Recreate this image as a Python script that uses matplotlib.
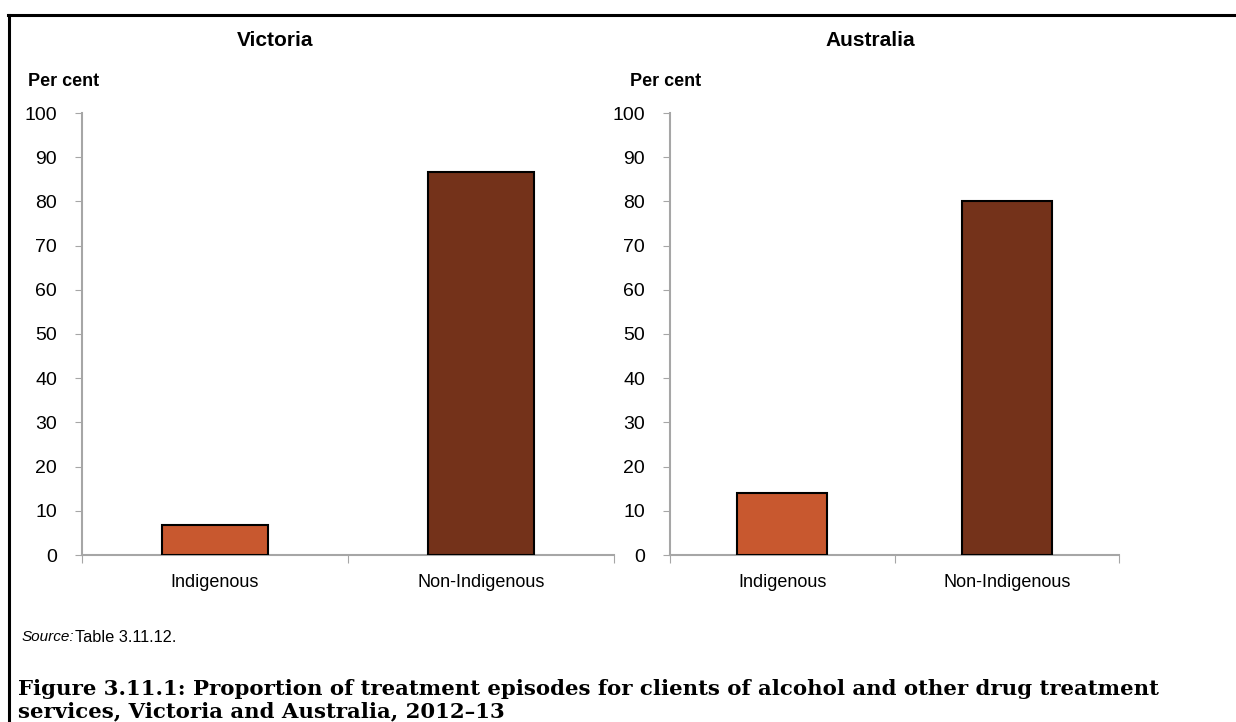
import matplotlib.pyplot as plt
from matplotlib.lines import Line2D

# data
categories = ['Indigenous', 'Non-Indigenous']
victoria = [6.9, 86.7]
australia = [14.0, 80.1]
panel_titles = ['Victoria', 'Australia']
bar_colours = ['#C8582F', '#74321A']
yticks = list(range(0, 101, 10))

plt.rcParams['font.family'] = ['Liberation Sans', 'DejaVu Sans']

fig = plt.figure(figsize=(12.36, 7.22), dpi=100)
W, H = 1236, 722

def px(x0, y0, x1, y1):
    # pixel box -> figure fraction [left, bottom, width, height]
    return [x0 / W, 1 - y1 / H, (x1 - x0) / W, (y1 - y0) / H]

axes_boxes = [px(82, 113, 614, 555), px(670, 113, 1119, 555)]
grey = '#A6A6A6'

for box, vals in zip(axes_boxes, [victoria, australia]):
    ax = fig.add_axes(box)
    ax.bar(range(len(categories)), vals, width=0.4, color=bar_colours,
           edgecolor='black', linewidth=1.5, zorder=3)
    ax.set_xlim(-0.5, 1.5)
    ax.set_ylim(0, 100)
    ax.set_yticks(yticks)
    ax.tick_params(axis='y', direction='out', length=5, color=grey,
                   labelsize=14, pad=13)
    # x ticks sit on the category boundaries, labels at the centres
    ax.set_xticks([-0.5, 0.5, 1.5])
    ax.set_xticklabels([])
    ax.set_xticks([0, 1], minor=True)
    ax.set_xticklabels(categories, minor=True, fontsize=13)
    ax.tick_params(axis='x', which='major', direction='out', length=6, color=grey)
    ax.tick_params(axis='x', which='minor', length=0, pad=14)
    for s in ['top', 'right']:
        ax.spines[s].set_visible(False)
    for s in ['left', 'bottom']:
        ax.spines[s].set_color(grey)
        ax.spines[s].set_linewidth(1.5)

# panel titles and unit labels
fig.text(275 / W, 1 - 40 / H, panel_titles[0], ha='center', va='center',
         fontsize=15, fontweight='bold')
fig.text(870 / W, 1 - 40 / H, panel_titles[1], ha='center', va='center',
         fontsize=15, fontweight='bold')
fig.text(28 / W, 1 - 81 / H, 'Per cent', ha='left', va='center',
         fontsize=13, fontweight='bold')
fig.text(630 / W, 1 - 81 / H, 'Per cent', ha='left', va='center',
         fontsize=13, fontweight='bold')

# source note
fig.text(22 / W, 1 - 637 / H, 'Source:', ha='left', va='center',
         fontsize=11, style='italic')
fig.text(75 / W, 1 - 637 / H, 'Table 3.11.12.', ha='left', va='center',
         fontsize=11.8)

# caption
fig.text(18 / W, 1 - 700 / H,
         'Figure 3.11.1: Proportion of treatment episodes for clients of alcohol and other drug treatment\n'
         'services, Victoria and Australia, 2012\u201313',
         ha='left', va='center', fontsize=15.3, fontweight='bold',
         family=['DejaVu Serif'], linespacing=1.15)

# frame lines (top and left)
fig.add_artist(Line2D([8 / W, 1], [1 - 15 / H, 1 - 15 / H], color='black', lw=2.2,
                      transform=fig.transFigure))
fig.add_artist(Line2D([9 / W, 9 / W], [1 - 15 / H, 0], color='black', lw=2.2,
                      transform=fig.transFigure))

fig.savefig('out.png', dpi=100)
